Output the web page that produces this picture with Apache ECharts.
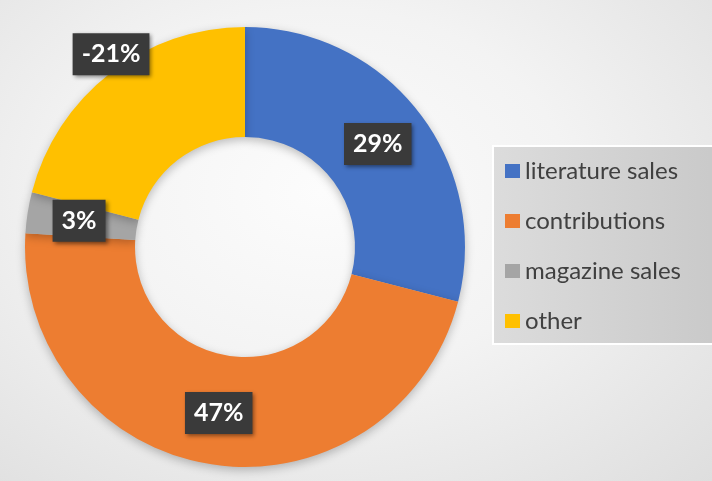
<!DOCTYPE html>
<html>
<head>
<meta charset="utf-8">
<script src="https://cdn.jsdelivr.net/npm/echarts@6/dist/echarts.min.js"></script>
<style>
html,body{margin:0;padding:0;}
#chart{width:712px;height:481px;background:radial-gradient(ellipse at 45% 40%, #fcfcfc 0%, #f3f3f3 45%, #dedede 100%);}
</style>
</head>
<body>
<div id="chart"></div>
<script>
var categories = ["literature sales", "contributions", "magazine sales", "other"];
var values = [29, 47, 3, 21];
var labelTexts = ["29%", "47%", "3%", "-21%"];
var colors = ["#4472C4", "#ED7D31", "#A5A5A5", "#FFC000"];

var chart = echarts.init(document.getElementById('chart'));
var data = categories.map(function (c, i) {
  var item = { name: c, value: values[i], itemStyle: { color: colors[i] } };
  if (c === "other") item.label = { offset: [-31, -60] };
  return item;
});
chart.setOption({
  animation: false,
  legend: {
    orient: 'vertical',
    left: 493,
    top: 146,
    data: categories,
    icon: 'rect',
    itemWidth: 15,
    itemHeight: 14,
    itemGap: 24,
    padding: [12, 40, 10, 12],
    backgroundColor: new echarts.graphic.LinearGradient(0, 0, 1, 0, [
      { offset: 0, color: '#dcdcdc' }, { offset: 1, color: '#c9c9c9' }
    ]),
    borderColor: '#ffffff',
    borderWidth: 2,
    textStyle: { fontFamily: 'Lato', fontSize: 24, color: '#404040', lineHeight: 26, padding: [0, 0, 0, 0] }
  },
  series: [{
    type: 'pie',
    center: [245, 247],
    radius: [110, 220],
    startAngle: 90,
    clockwise: true,
    avoidLabelOverlap: false,
    data: data,
    itemStyle: { shadowBlur: 10, shadowColor: 'rgba(0,0,0,0.25)', shadowOffsetY: 3 },
    label: {
      show: true,
      position: 'inside',
      formatter: function (p) { return labelTexts[p.dataIndex]; },
      color: '#ffffff',
      fontFamily: 'Lato',
      fontWeight: 'bold',
      fontSize: 25,
      backgroundColor: '#3a3a3a',
      padding: [9, 9, 8, 9],
      shadowBlur: 4,
      shadowOffsetX: 2,
      shadowOffsetY: 2,
      shadowColor: 'rgba(0,0,0,0.45)'
    },
    labelLine: { show: false },
    emphasis: { disabled: true }
  }]
});
</script>
</body>
</html>
